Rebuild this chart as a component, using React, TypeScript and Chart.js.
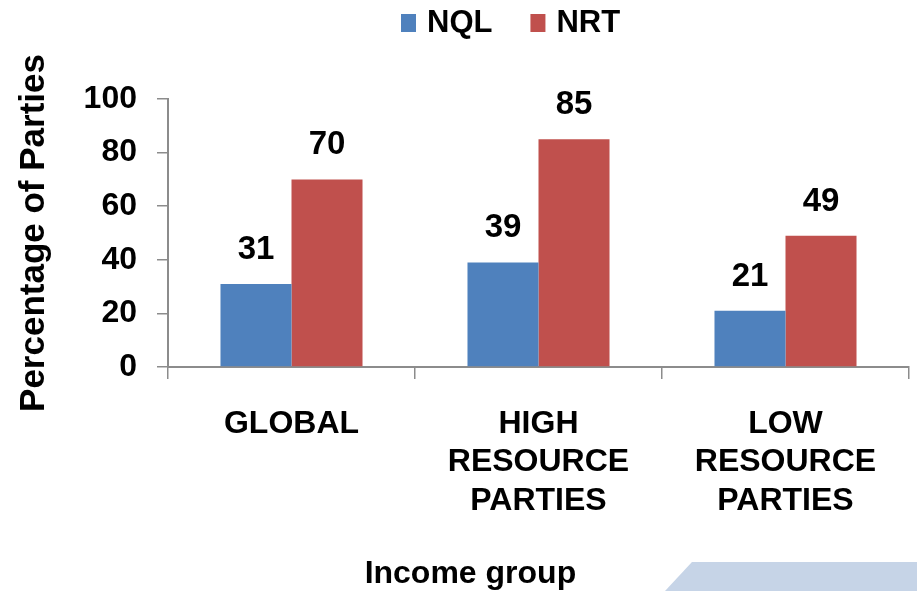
import React, { useEffect, useRef } from "react";
import { Chart, registerables } from "chart.js";

Chart.register(...registerables);

// Chart data
const categories: string[][] = [
  ["GLOBAL"],
  ["HIGH", "RESOURCE", "PARTIES"],
  ["LOW", "RESOURCE", "PARTIES"],
];
const seriesNames = ["NQL", "NRT"];
const nqlValues = [31, 39, 21];
const nrtValues = [70, 85, 49];
const seriesColors = ["#4F81BD", "#C0504D"];
const yMin = 0;
const yMax = 100;
const yStep = 20;
const yAxisTitle = "Percentage of Parties";
const xAxisTitle = "Income group";

const FONT = '"Liberation Sans", Arial, Helvetica, sans-serif';
const AXIS_GRAY = "#8C8C8C";

// Light slanted band in the lower-right corner of the slide
const cornerBand = {
  id: "cornerBand",
  beforeDraw(chart: any) {
    const { ctx, width, height } = chart;
    ctx.save();
    ctx.fillStyle = "#C6D4E7";
    ctx.beginPath();
    ctx.moveTo(width * 0.7546, height - 29);
    ctx.lineTo(width, height - 29);
    ctx.lineTo(width, height);
    ctx.lineTo(width * 0.7252, height);
    ctx.closePath();
    ctx.fill();
    ctx.restore();
  },
};

// Legend row along the top
const topLegend = {
  id: "topLegend",
  afterDraw(chart: any) {
    const { ctx } = chart;
    ctx.save();
    ctx.font = `bold 31px ${FONT}`;
    ctx.textBaseline = "middle";
    ctx.textAlign = "left";
    let x = 401;
    const y = 23;
    chart.data.datasets.forEach((ds: any) => {
      ctx.fillStyle = ds.backgroundColor;
      ctx.fillRect(x, y - 9, 15, 18);
      x += 26;
      ctx.fillStyle = "#000";
      ctx.fillText(ds.label, x, y);
      x += ctx.measureText(ds.label).width + 38;
    });
    ctx.restore();
  },
};

// Value labels above each bar
const barValueLabels = {
  id: "barValueLabels",
  afterDatasetsDraw(chart: any) {
    const { ctx } = chart;
    ctx.save();
    ctx.font = `bold 33px ${FONT}`;
    ctx.fillStyle = "#000";
    ctx.textAlign = "center";
    ctx.textBaseline = "alphabetic";
    chart.data.datasets.forEach((ds: any, i: number) => {
      const meta = chart.getDatasetMeta(i);
      meta.data.forEach((bar: any, j: number) => {
        ctx.fillText(String(ds.data[j]), bar.x, bar.y - 25);
      });
    });
    ctx.restore();
  },
};

// Horizontal axis title under the category labels
const bottomTitle = {
  id: "bottomTitle",
  afterDraw(chart: any) {
    const { ctx, width, height } = chart;
    ctx.save();
    ctx.font = `bold 32px ${FONT}`;
    ctx.fillStyle = "#000";
    ctx.textAlign = "center";
    ctx.textBaseline = "alphabetic";
    ctx.fillText(xAxisTitle, width * 0.513, height - 8);
    ctx.restore();
  },
};

export default function App() {
  const canvasRef = useRef<HTMLCanvasElement | null>(null);

  useEffect(() => {
    document.body.style.margin = "0";
    const canvas = canvasRef.current;
    if (!canvas) return;

    const chart = new Chart(canvas, {
      type: "bar",
      data: {
        labels: categories,
        datasets: [
          {
            label: seriesNames[0],
            data: nqlValues,
            backgroundColor: seriesColors[0],
            borderWidth: 0,
          },
          {
            label: seriesNames[1],
            data: nrtValues,
            backgroundColor: seriesColors[1],
            borderWidth: 0,
          },
        ],
      },
      options: {
        responsive: false,
        animation: false,
        devicePixelRatio: 1,
        layout: { padding: { top: 99, right: 8, left: 0, bottom: 0 } },
        datasets: {
          bar: { categoryPercentage: 0.575, barPercentage: 1.0 },
        },
        plugins: {
          legend: { display: false },
          tooltip: { enabled: false },
          title: { display: false },
        },
        scales: {
          x: {
            offset: true,
            grid: {
              display: true,
              offset: true,
              drawOnChartArea: false,
              drawTicks: true,
              tickLength: 12,
              color: AXIS_GRAY,
              lineWidth: 1.5,
            },
            border: { display: true, color: AXIS_GRAY, width: 2 },
            ticks: {
              color: "#000",
              padding: 26,
              maxRotation: 0,
              autoSkip: false,
              font: { family: FONT, size: 32, weight: "bold", lineHeight: 1.2 },
            },
            afterFit(scale: any) {
              scale.height = 224;
            },
          },
          y: {
            min: yMin,
            max: yMax,
            grid: {
              display: true,
              drawOnChartArea: false,
              drawTicks: true,
              tickLength: 11,
              color: AXIS_GRAY,
              lineWidth: 1.5,
            },
            border: { display: true, color: AXIS_GRAY, width: 2 },
            ticks: {
              stepSize: yStep,
              color: "#000",
              padding: 20,
              font: { family: FONT, size: 32, weight: "bold" },
            },
            title: {
              display: true,
              text: yAxisTitle,
              color: "#000",
              padding: { top: 13, bottom: 0 },
              font: { family: FONT, size: 35, weight: "bold", lineHeight: 1.2 },
            },
            afterFit(scale: any) {
              scale.width = 168;
            },
          },
        },
      },
      plugins: [cornerBand, barValueLabels, topLegend, bottomTitle],
    });

    return () => chart.destroy();
  }, []);

  return <canvas ref={canvasRef} width={917} height={591} style={{ display: "block" }} />;
}
